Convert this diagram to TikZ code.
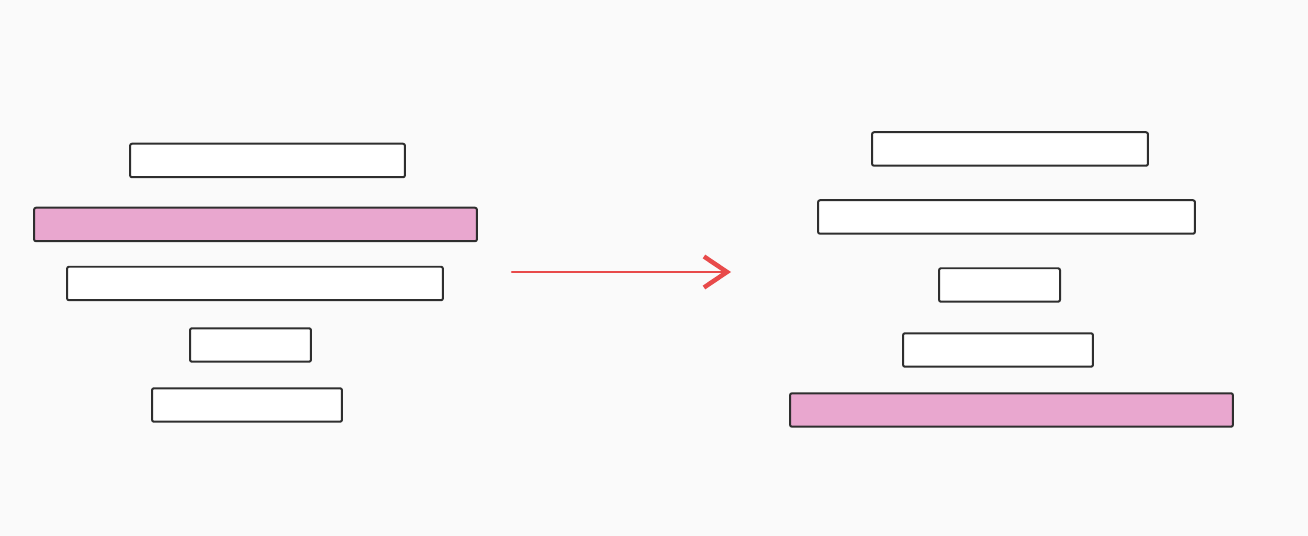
\documentclass[tikz,border=0pt]{standalone}
\usepackage{xcolor}
\usepackage{tikz}
\usetikzlibrary{arrows.meta}
\definecolor{BG}{HTML}{FAFAFA}
\definecolor{BAR}{HTML}{E9A7CF}
\definecolor{EDGE}{HTML}{2E2E2E}
\definecolor{ARR}{HTML}{E84A4A}
\tikzset{
  bar/.style={draw=EDGE, line width=0.04cm, rounded corners=0.04cm, inner sep=0pt, outer sep=0pt, minimum height=0.67cm, fill=white},
  hot/.style={bar, fill=BAR},
}

\begin{document}
\begin{tikzpicture}[x=0.02cm, y=-0.02cm]%
\fill[BG] (0,0) rectangle (1308,536);%
\useasboundingbox (0,0) rectangle (1308,536);%
% before
\node[bar, minimum width=5.50cm] (l1) at (267.5, 160.5) {};%
\node[hot, minimum width=8.86cm] (l2) at (255.5, 224.5) {};%
\node[bar, minimum width=7.52cm] (l3) at (255.0, 283.5) {};%
\node[bar, minimum width=2.42cm] (l4) at (250.5, 345.0) {};%
\node[bar, minimum width=3.80cm] (l5) at (247.0, 405.0) {};%
% after
\node[bar, minimum width=5.52cm] (r1) at (1010.0, 149.0) {};%
\node[bar, minimum width=7.54cm] (r2) at (1006.5, 217.0) {};%
\node[bar, minimum width=2.42cm] (r3) at (999.5, 285.0) {};%
\node[bar, minimum width=3.80cm] (r4) at (998.0, 350.0) {};%
\node[hot, minimum width=8.86cm] (r5) at (1011.5, 410.0) {};%
% arrow
\coordinate (from) at (512, 272);%
\coordinate (to) at (731, 272);%
\draw[ARR, line width=0.05cm, line cap=round, -{Straight Barb[length=0.46cm, width=0.62cm, line width=0.09cm]}] (from) -- (to);%
\end{tikzpicture}
\end{document}
